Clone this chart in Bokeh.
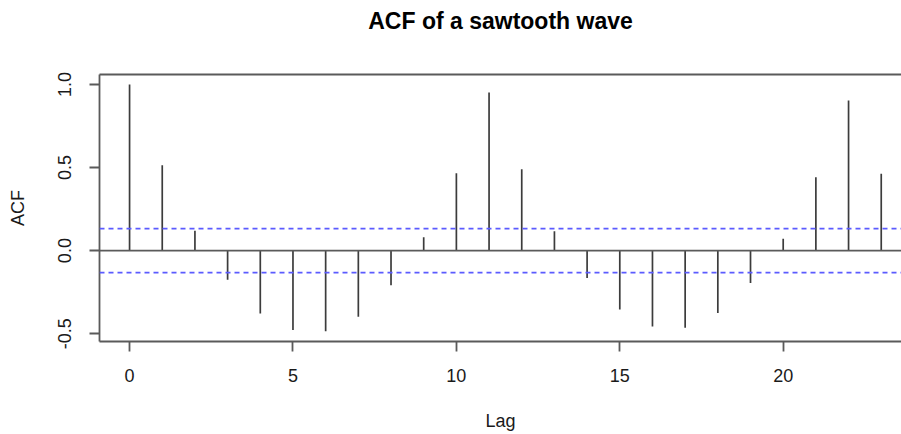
from bokeh.plotting import figure
from bokeh.models import ColumnDataSource, Span, LinearAxis, FixedTicker, Range1d
from bokeh.embed import file_html
from bokeh.resources import INLINE

# ---- data ----
lags = list(range(24))
acf = [1.0, 0.514, 0.12, -0.175, -0.378, -0.478, -0.486, -0.398, -0.209, 0.08,
       0.466, 0.952, 0.49, 0.116, -0.165, -0.355, -0.456, -0.464, -0.375, -0.195,
       0.072, 0.442, 0.904, 0.462]
ci = 0.132
x_ticks = [0, 5, 10, 15, 20]
y_ticks = [-0.5, 0.0, 0.5, 1.0]
y_tick_labels = ["-0.5", "0.0", "0.5", "1.0"]
title_text = "ACF of a sawtooth wave"
x_label = "Lag"
y_label = "ACF"

FONT = "Liberation Sans"
LINE = "#5a5a5a"
TXT = "#1a1a1a"

src = ColumnDataSource(dict(lag=lags, acf=acf, zero=[0.0] * len(lags)))

p = figure(width=901, height=434, output_backend="svg", toolbar_location=None,
           x_range=Range1d(-0.92, 23.62), y_range=Range1d(-0.547, 1.06),
           min_border_left=99, min_border_right=0, min_border_top=74,
           min_border_bottom=93, x_axis_label=x_label, y_axis_label=y_label)

p.title.visible = False

p.outline_line_color = None
p.grid.visible = False
p.background_fill_color = "white"
p.border_fill_color = "white"

for ax in (p.xaxis[0], p.yaxis[0]):
    ax.axis_line_color = LINE
    ax.axis_line_width = 1.8
    ax.major_tick_line_color = LINE
    ax.major_tick_line_width = 1.8
    ax.major_tick_out = 10
    ax.major_tick_in = 0
    ax.minor_tick_line_color = None
    ax.major_label_text_font = FONT
    ax.major_label_text_font_size = "18px"
    ax.major_label_text_color = TXT
    ax.axis_label_text_font = FONT
    ax.axis_label_text_font_size = "18px"
    ax.axis_label_text_font_style = "normal"
    ax.axis_label_text_color = TXT

p.xaxis.ticker = FixedTicker(ticks=x_ticks)
p.xaxis.major_label_standoff = 17
p.xaxis.axis_label_standoff = 26

p.yaxis.ticker = FixedTicker(ticks=y_ticks)
p.yaxis.major_label_overrides = {t: s for t, s in zip(y_ticks, y_tick_labels)}
p.yaxis.major_label_orientation = "vertical"
p.yaxis.major_label_standoff = 18
p.yaxis.axis_label_standoff = 28

# top edge of the box; its label carries the chart title
top = LinearAxis(ticker=FixedTicker(ticks=[]), axis_line_color=LINE, axis_line_width=1.8,
                 major_tick_line_color=None, minor_tick_line_color=None,
                 major_label_text_font_size="0px", major_tick_out=0, major_tick_in=0,
                 major_label_standoff=0,
                 axis_label=title_text, axis_label_standoff=41,
                 axis_label_text_font=FONT, axis_label_text_font_size="23px",
                 axis_label_text_font_style="bold", axis_label_text_color="#000000")
p.add_layout(top, "above")

p.add_layout(Span(location=0, dimension="width", line_color=LINE, line_width=1.8))
for c in (ci, -ci):
    p.add_layout(Span(location=c, dimension="width", line_color="#5b5bff",
                      line_width=1.7, line_dash="5 4"))

p.segment(x0="lag", y0="zero", x1="lag", y1="acf", source=src,
          line_color="#3c3c3c", line_width=1.7)

open("out.html", "w").write(file_html(p, INLINE))
